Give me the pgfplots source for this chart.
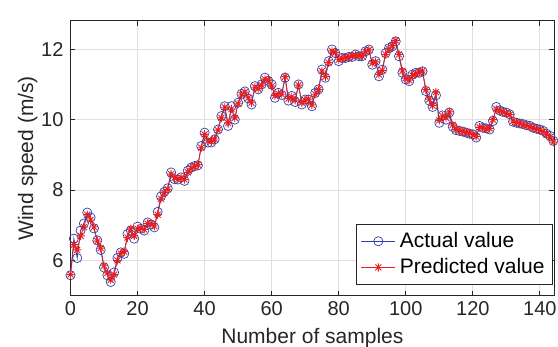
\documentclass[border=0pt]{standalone}
\usepackage{pgfplots}
\pgfplotsset{compat=1.18}
\usepackage{pgfplotstable}
\usepackage{fontspec}
\setmainfont{Liberation Sans}
\definecolor{actblue}{RGB}{45,65,170}
\definecolor{predred}{RGB}{235,30,30}
\definecolor{axgray}{RGB}{38,38,38}
\pgfdeclareplotmark{mstar}{%
 \pgfpathmoveto{\pgfqpoint{-\pgfplotmarksize}{0pt}}\pgfpathlineto{\pgfqpoint{\pgfplotmarksize}{0pt}}%
 \pgfpathmoveto{\pgfqpoint{0pt}{-\pgfplotmarksize}}\pgfpathlineto{\pgfqpoint{0pt}{\pgfplotmarksize}}%
 \pgfpathmoveto{\pgfqpoint{-0.707\pgfplotmarksize}{-0.707\pgfplotmarksize}}\pgfpathlineto{\pgfqpoint{0.707\pgfplotmarksize}{0.707\pgfplotmarksize}}%
 \pgfpathmoveto{\pgfqpoint{-0.707\pgfplotmarksize}{0.707\pgfplotmarksize}}\pgfpathlineto{\pgfqpoint{0.707\pgfplotmarksize}{-0.707\pgfplotmarksize}}%
 \pgfusepathqstroke}
\pgfplotstableread{
x act pred
0 5.58 5.60
1 6.62 6.45
2 6.07 6.30
3 6.85 6.70
4 7.05 6.95
5 7.36 7.30
6 7.22 7.15
7 6.91 6.95
8 6.57 6.55
9 6.30 6.35
10 5.80 5.85
11 5.58 5.65
12 5.39 5.45
13 5.66 5.60
14 6.07 6.00
15 6.23 6.20
16 6.19 6.25
17 6.75 6.65
18 6.85 6.90
19 6.62 6.70
20 6.96 6.90
21 6.90 6.92
22 6.85 6.88
23 7.08 7.05
24 7.02 7.05
25 6.94 6.98
26 7.38 7.30
27 7.82 7.75
28 7.95 7.92
29 8.05 8.02
30 8.50 8.45
31 8.31 8.35
32 8.30 8.30
33 8.36 8.35
34 8.26 8.30
35 8.55 8.50
36 8.64 8.62
37 8.68 8.66
38 8.70 8.72
39 9.25 9.20
40 9.63 9.58
41 9.35 9.40
42 9.35 9.38
43 9.44 9.45
44 9.72 9.70
45 10.10 10.05
46 10.38 10.35
47 9.82 9.90
48 10.38 10.30
49 10.00 10.05
50 10.48 10.45
51 10.73 10.70
52 10.80 10.78
53 10.60 10.62
54 10.43 10.48
55 10.95 10.92
56 10.86 10.88
57 11.00 10.98
58 11.19 11.15
59 11.10 11.12
60 11.00 10.95
61 10.62 10.68
62 10.76 10.74
63 10.70 10.72
64 11.19 11.22
65 10.54 10.60
66 10.67 10.65
67 10.50 10.55
68 11.00 10.98
69 10.43 10.48
70 10.57 10.55
71 10.57 10.58
72 10.38 10.42
73 10.76 10.72
74 10.86 10.85
75 11.42 11.38
76 11.19 11.22
77 11.66 11.62
78 11.99 11.95
79 11.89 11.90
80 11.66 11.70
81 11.75 11.74
82 11.75 11.76
83 11.78 11.78
84 11.78 11.80
85 11.85 11.83
86 11.80 11.82
87 11.80 11.80
88 11.94 11.92
89 11.99 11.98
90 11.56 11.60
91 11.66 11.64
92 11.23 11.28
93 11.42 11.40
94 11.89 11.85
95 12.03 12.00
96 12.08 12.10
97 12.22 12.25
98 11.80 11.85
99 11.33 11.38
100 11.14 11.18
101 11.09 11.12
102 11.28 11.25
103 11.33 11.30
104 11.33 11.35
105 11.37 11.38
106 10.81 10.85
107 10.54 10.58
108 10.36 10.40
109 10.69 10.78
110 9.91 9.98
111 10.12 10.10
112 10.00 10.05
113 10.20 10.22
114 9.80 9.85
115 9.70 9.72
116 9.68 9.70
117 9.66 9.66
118 9.63 9.64
119 9.60 9.62
120 9.58 9.58
121 9.49 9.52
122 9.82 9.78
123 9.77 9.76
124 9.75 9.74
125 9.72 9.75
126 9.96 10.00
127 10.36 10.30
128 10.26 10.25
129 10.22 10.22
130 10.20 10.18
131 10.15 10.14
132 9.94 9.96
133 9.91 9.92
134 9.89 9.89
135 9.87 9.86
136 9.84 9.83
137 9.82 9.80
138 9.77 9.76
139 9.74 9.73
140 9.72 9.70
141 9.68 9.66
142 9.60 9.58
143 9.54 9.50
144 9.40 9.36
}\datatable
\begin{document}
\begin{tikzpicture}
\useasboundingbox (-35.25pt,-25.65pt) rectangle (243.75pt,147.85pt);
\begin{axis}[
  at={(0,0)}, anchor=south west,
  scale only axis,
  width=241.9pt, height=137.35pt,
  xmin=0, xmax=144.3, ymin=5, ymax=12.8,
  xtick={0,20,...,140}, ytick={6,8,10,12},
  tick align=inside, major tick length=2.5pt,
  axis line style={axgray, line width=0.5pt},
  tick style={axgray, line width=0.4pt},
  grid=major, major grid style={gray!25, line width=0.4pt},
  /pgf/number format/assume math mode=true,
  tick label style={font=\fontsize{10}{12}\selectfont, text=axgray},
  label style={font=\fontsize{10.5}{12}\selectfont, text=axgray},
  xlabel={Number of samples}, ylabel={Wind speed (m/s)},
  xlabel style={at={([yshift=-20.95pt]axis description cs:0.5,0)}, anchor=center},
  ylabel style={at={([xshift=-21.45pt]axis description cs:0,0.5)}, anchor=center},
  xticklabel style={yshift=0.7pt},
  legend style={at={(0.9973,0.039)}, anchor=south east, draw=axgray, line width=0.4pt,
    font=\fontsize{10.5}{12}\selectfont, row sep=0pt, inner sep=2pt,
    legend cell align=left},
]
\addplot[actblue, line width=0.4pt, mark=o, mark size=2.3pt, mark options={line width=0.35pt}] table[x=x,y=act]{\datatable};
\addlegendentry{Actual value}
\addplot[predred, line width=0.4pt, mark=mstar, mark size=2.1pt, mark options={line width=0.45pt}] table[x=x,y=pred]{\datatable};
\addlegendentry{Predicted value}
\end{axis}
\end{tikzpicture}
\end{document}
